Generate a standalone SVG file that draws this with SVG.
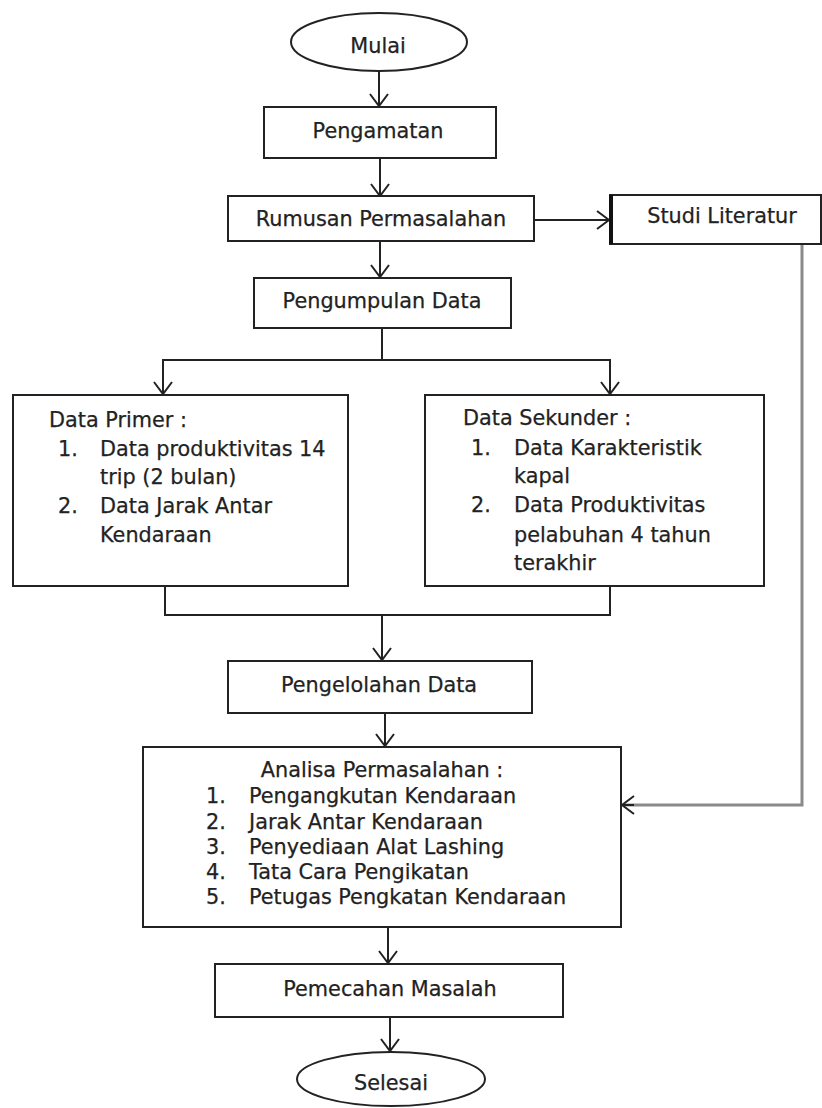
<svg xmlns="http://www.w3.org/2000/svg" width="822" height="1108" viewBox="0 0 822 1108">
<style>
.box{fill:#fff;stroke:#222;stroke-width:2}
.t{font-family:"DejaVu Sans","Verdana",sans-serif;font-size:20.8px;fill:#222;stroke:#222;stroke-width:0.25}
.c{text-anchor:middle}
.ln{fill:none;stroke:#222;stroke-width:2}
.gl{fill:none;stroke:#8a8a8a;stroke-width:3}
</style>
<defs>
<marker id="ah" viewBox="-14 -11 16 22" refX="0" refY="0" markerWidth="16" markerHeight="22" markerUnits="userSpaceOnUse" orient="auto">
<path d="M-12,-9 L0,0 L-12,9" fill="none" stroke="#222" stroke-width="2"/>
</marker>
</defs>
<rect width="822" height="1108" fill="#fff"/>
<g id="connectors">
<line class="ln" x1="379" y1="72" x2="379" y2="106" marker-end="url(#ah)"/>
<line class="ln" x1="380" y1="158" x2="380" y2="196" marker-end="url(#ah)"/>
<line class="ln" x1="534" y1="220" x2="609" y2="220" marker-end="url(#ah)"/>
<line class="ln" x1="380" y1="241" x2="380" y2="277" marker-end="url(#ah)"/>
<polyline class="ln" points="382,328 382,360 163,360 163,394" marker-end="url(#ah)"/>
<polyline class="ln" points="382,360 610,360 610,394" marker-end="url(#ah)"/>
<polyline class="ln" points="165,586 165,615 610,615 610,586"/>
<line class="ln" x1="382" y1="615" x2="382" y2="660" marker-end="url(#ah)"/>
<line class="ln" x1="385" y1="713" x2="385" y2="746" marker-end="url(#ah)"/>
<polyline class="gl" points="802,244 802,805 624,805"/>
<line class="ln" x1="634" y1="805" x2="622" y2="805" marker-end="url(#ah)"/>
<line class="ln" x1="388" y1="927" x2="388" y2="963" marker-end="url(#ah)"/>
<line class="ln" x1="390" y1="1017" x2="390" y2="1051" marker-end="url(#ah)"/>
</g>
<g id="mulai">
<ellipse class="box" cx="379" cy="42" rx="88" ry="29"/>
<text class="t c" x="378" y="53">Mulai</text>
</g>
<g id="pengamatan">
<rect class="box" x="264" y="107" width="232" height="51"/>
<text class="t c" x="378" y="138">Pengamatan</text>
</g>
<g id="rumusan">
<rect class="box" x="228" y="196" width="306" height="45"/>
<text class="t c" x="381" y="226">Rumusan Permasalahan</text>
</g>
<g id="studi">
<rect class="box" x="610" y="195" width="211" height="49"/>
<line x1="611" y1="195" x2="611" y2="244" stroke="#111" stroke-width="4"/>
<text class="t c" x="722" y="223">Studi Literatur</text>
</g>
<g id="pengumpulan">
<rect class="box" x="254" y="278" width="257" height="50"/>
<text class="t c" x="382" y="308">Pengumpulan Data</text>
</g>
<g id="primer">
<rect class="box" x="13" y="395" width="335" height="191"/>
<text class="t" x="49" y="427">Data Primer :</text>
<text class="t" x="58" y="456">1.</text>
<text class="t" x="100" y="456">Data produktivitas 14</text>
<text class="t" x="100" y="484">trip (2 bulan)</text>
<text class="t" x="58" y="513">2.</text>
<text class="t" x="100" y="513">Data Jarak Antar</text>
<text class="t" x="100" y="542">Kendaraan</text>
</g>
<g id="sekunder">
<rect class="box" x="425" y="395" width="339" height="191"/>
<text class="t" x="463" y="425">Data Sekunder :</text>
<text class="t" x="471" y="455">1.</text>
<text class="t" x="514" y="455">Data Karakteristik</text>
<text class="t" x="514" y="483">kapal</text>
<text class="t" x="471" y="512">2.</text>
<text class="t" x="514" y="512">Data Produktivitas</text>
<text class="t" x="514" y="542">pelabuhan 4 tahun</text>
<text class="t" x="514" y="570">terakhir</text>
</g>
<g id="pengelolahan">
<rect class="box" x="228" y="661" width="304" height="52"/>
<text class="t c" x="379" y="692">Pengelolahan Data</text>
</g>
<g id="analisa">
<rect class="box" x="143" y="747" width="478" height="180"/>
<text class="t c" x="382" y="777">Analisa Permasalahan :</text>
<text class="t" x="206" y="803">1.</text>
<text class="t" x="249" y="803">Pengangkutan Kendaraan</text>
<text class="t" x="206" y="829">2.</text>
<text class="t" x="249" y="829">Jarak Antar Kendaraan</text>
<text class="t" x="206" y="854">3.</text>
<text class="t" x="249" y="854">Penyediaan Alat Lashing</text>
<text class="t" x="206" y="879">4.</text>
<text class="t" x="249" y="879">Tata Cara Pengikatan</text>
<text class="t" x="206" y="904">5.</text>
<text class="t" x="249" y="904">Petugas Pengkatan Kendaraan</text>
</g>
<g id="pemecahan">
<rect class="box" x="215" y="964" width="348" height="53"/>
<text class="t c" x="390" y="996">Pemecahan Masalah</text>
</g>
<g id="selesai">
<ellipse class="box" cx="391" cy="1079" rx="94" ry="27"/>
<text class="t c" x="391" y="1090">Selesai</text>
</g>
</svg>
